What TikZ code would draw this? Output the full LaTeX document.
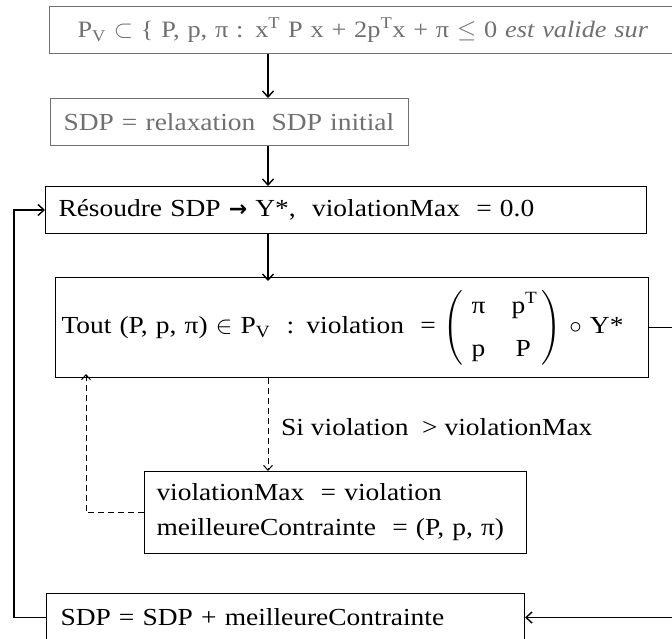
\documentclass[tikz,border=0pt]{standalone}
\usepackage{amsmath}
\usepackage{fontspec}
\setmainfont[FakeStretch=1.12]{Liberation Serif}
\newfontfamily\arrowfont{DejaVu Sans}
\usetikzlibrary{arrows.meta,calc}
\definecolor{greybox}{RGB}{112,112,112}
\tikzset{
  >={Straight Barb[length=6pt,width=11pt,line width=1.4pt]},
  box/.style={rectangle, draw, line width=1pt, anchor=north west,
              align=left, inner ysep=0pt,
              font=\fontsize{24.5}{35}\selectfont},
  {old box/.style}={box, draw=greybox, text=greybox},
  flow/.style={line width=1.4pt, ->},
  {test flow/.style}={line width=1pt, dash pattern=on 6pt off 4pt,
              -{Straight Barb[length=5pt,width=9pt,line width=1pt]}},
}
\begin{document}
\begin{tikzpicture}[x=1pt,y=-1pt]
  \useasboundingbox (0,0) rectangle (672,639);
  \clip (0,0) rectangle (672,639);
  % boxes
  \node[old box, inner xsep=28pt, minimum width=700, minimum height=47, text width=644,
        font=\fontsize{23.5}{30}\selectfont] (domaine) at (49,6)
    {\mbox{P\textsubscript{V} $\subset$ \{ P, p, π : x\textsuperscript{T} P x + 2p\textsuperscript{T}x + π $\leq$ 0 \textit{est valide sur}}};
  \node[old box, inner xsep=13pt, minimum width=358, minimum height=47, text width=332] (relax) at (50,98)
    {\mbox{SDP = relaxation \ SDP initial}};
  \node[box, inner xsep=13pt, minimum width=601, minimum height=47, text width=575] (resoudre) at (45,186)
    {\mbox{Résoudre SDP {\arrowfont\bfseries\fontsize{22}{24}\selectfont →} Y*, \ violationMax \ = 0.0}};
  \node[box, inner xsep=6pt, minimum width=593, minimum height=100, text width=581] (tout) at (55,277)
    {\mbox{Tout (P, p, π) $\in$ P\textsubscript{V} \ : violation \ =
     $\left(\begin{array}{@{\hspace{8pt}}l@{\hspace{26pt}}l@{\hspace{4pt}}}
        \text{π} & \text{p}^{\text{T}}\\[8pt]
        \text{p} & \text{\,P}
      \end{array}\right)$ $\circ$ Y*}};
  \node[box, inner xsep=12pt, minimum width=382, minimum height=82, text width=358] (maj) at (144,471)
    {\mbox{violationMax \ = violation}\\
     \mbox{meilleureContrainte \ = (P, p, π)}};
  \node[box, inner xsep=14pt, minimum width=478, minimum height=48, text width=450] (ajout) at (46,593)
    {\mbox{SDP = SDP + meilleureContrainte}};
  % helper points
  \coordinate (axe) at (268,0);
  \coordinate (retour) at (86,0);
  \coordinate (gauche) at (14,0);
  \coordinate (droite) at (690,0);
  \node[anchor=base west, inner sep=0pt, font=\fontsize{24.5}{29}\selectfont] (si) at (281,435)
    {Si violation \ > violationMax};
  % connectors
  \draw[flow] (domaine.south -| axe) -- (relax.north -| axe);
  \draw[flow] (relax.south -| axe) -- (resoudre.north -| axe);
  \draw[flow] (resoudre.south -| axe) -- ([yshift=-4pt]tout.north -| axe);
  \draw[test flow] (tout.south -| axe) -- (maj.north -| axe);
  \draw[test flow] (maj.west) -| ([yshift=4pt]tout.south -| retour);
  \draw[flow] (tout.east) -- (tout.east -| droite) |- (ajout.east);
  \draw[flow] (ajout.west) -- (ajout.west -| gauche) |- (resoudre.west);
\end{tikzpicture}
\end{document}
